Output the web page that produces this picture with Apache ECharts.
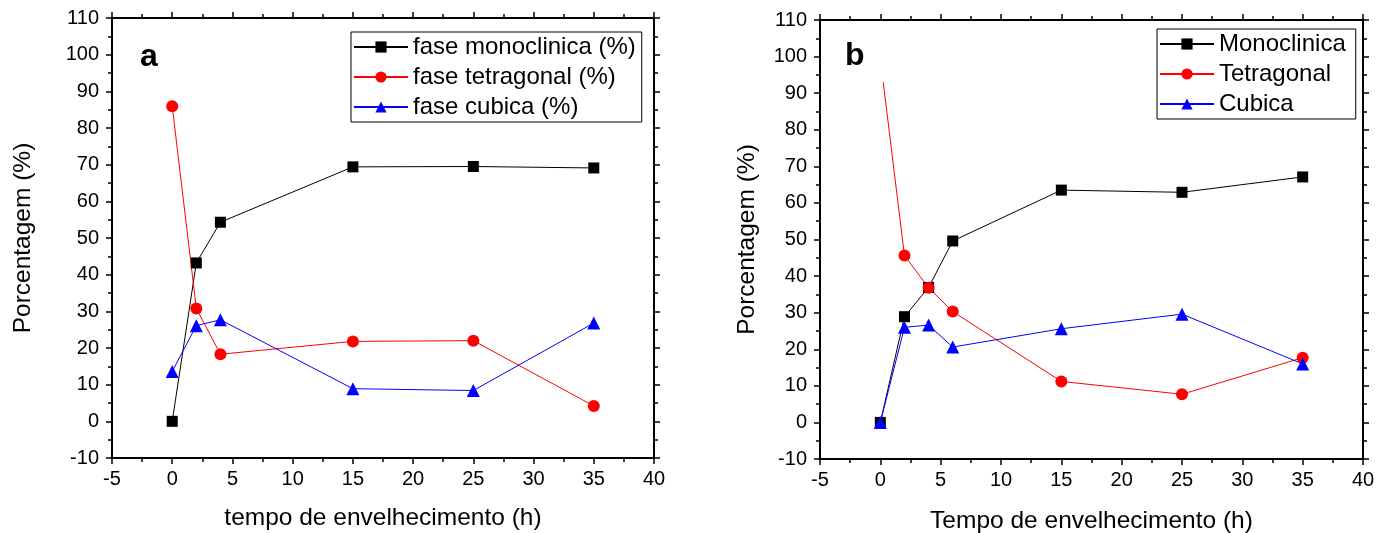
<!DOCTYPE html>
<html>
<head>
<meta charset="utf-8">
<script src="https://cdn.jsdelivr.net/npm/echarts@6/dist/echarts.min.js"></script>
<style>
  html, body { margin: 0; padding: 0; background: #fff; }
  #chart { width: 1391px; height: 533px; }
</style>
</head>
<body>
<div id="chart"></div>
<script>
// painel a
const hoursA = [0, 2, 4, 15, 25, 35];
const monoA = [0, 43.2, 54.3, 69.4, 69.5, 69.1];
const tetraA = [85.9, 30.8, 18.3, 21.8, 22.0, 4.2];
const cubicaA = [13.6, 26.1, 27.7, 8.9, 8.4, 26.8];

// painel b
const hoursB = [0, 2, 4, 6, 15, 25, 35];
const monoB = [0, 28.9, 36.9, 49.6, 63.5, 62.9, 67.1];
const tetraHoursB = [0.24, 2, 4, 6, 15, 25, 35];
const tetraB = [93.0, 45.6, 36.8, 30.3, 11.2, 7.7, 17.7];
const cubicaB = [0, 26.0, 26.6, 20.6, 25.6, 29.6, 16.0];

const namesA = ['fase monoclinica (%)', 'fase tetragonal (%)', 'fase cubica (%)'];
const namesB = ['Monoclinica', 'Tetragonal', 'Cubica'];

const FONT = '"Liberation Sans", Arial, sans-serif';

const pairs = (xs, ys) => xs.map((x, i) => [x, ys[i]]);

const chart = echarts.init(document.getElementById('chart'));

// eixo com ticks para fora e minor ticks (estilo Origin)
const makeAxis = (pos, gridIndex, isX, name, nameGap) => {
    const showLabel = pos === 'bottom' || pos === 'left';
    return {
        type: 'value',
        gridIndex: gridIndex,
        position: pos,
        min: isX ? -5 : -10,
        max: isX ? 40 : 110,
        interval: isX ? 5 : 10,
        name: showLabel ? name : '',
        nameLocation: 'middle',
        nameGap: nameGap,
        nameTextStyle: { fontFamily: FONT, fontSize: 24.5, color: '#000' },
        axisLine: { show: true, onZero: false, lineStyle: { color: '#000', width: 2 } },
        axisTick: { show: true, inside: false, length: 6, lineStyle: { color: '#000', width: 1.5 } },
        minorTick: { show: true, splitNumber: 2, length: 4, lineStyle: { color: '#000', width: 1.5 } },
        splitLine: { show: false },
        axisLabel: {
            show: showLabel,
            margin: isX ? 11 : 13,
            fontFamily: FONT,
            fontSize: 20,
            color: '#000',
        },
    };
};

const lineSeries = (name, data, color, symbol, size, xi) => ({
    name: name,
    type: 'line',
    xAxisIndex: xi,
    yAxisIndex: xi,
    data: data,
    symbol: symbol,
    symbolSize: size,
    showSymbol: true,
    color: color,
    lineStyle: { color: color, width: 1 },
    itemStyle: { color: color },
    emphasis: { disabled: true },
    animation: false,
});

const tetraBData = pairs(tetraHoursB, tetraB).map((p, i) =>
    i === 0 ? { value: p, symbol: 'none' } : p
);

const legendBase = {
    orient: 'vertical',
    borderColor: '#000',
    borderWidth: 1,
    itemWidth: 54,
    itemHeight: 14,
    itemGap: 6,
    padding: [3, 6, 3, 2],
    textStyle: { fontFamily: FONT, fontSize: 24, color: '#000' },
};

const option = {
    animation: false,
    grid: [
        { left: 112, top: 18, width: 542, height: 440, outerBoundsMode: 'none', containLabel: false },
        { left: 820, top: 20, width: 543, height: 439, outerBoundsMode: 'none', containLabel: false },
    ],
    xAxis: [
        makeAxis('bottom', 0, true, 'tempo de envelhecimento (h)', 48),
        makeAxis('top', 0, true, '', 0),
        makeAxis('bottom', 1, true, 'Tempo de envelhecimento (h)', 50),
        makeAxis('top', 1, true, '', 0),
    ],
    yAxis: [
        makeAxis('left', 0, false, 'Porcentagem (%)', 76),
        makeAxis('right', 0, false, '', 0),
        makeAxis('left', 1, false, 'Porcentagem (%)', 60),
        makeAxis('right', 1, false, '', 0),
    ],
    legend: [
        Object.assign({}, legendBase, { data: namesA, left: 351, top: 32 }),
        Object.assign({}, legendBase, { data: namesB, left: 1157, top: 29, padding: [3, 10, 3, 2] }),
    ],
    graphic: [
        { type: 'text', left: 140, top: 41, style: { text: 'a', font: 'bold 32px ' + FONT, fill: '#000' } },
        { type: 'text', left: 845, top: 40, style: { text: 'b', font: 'bold 32px ' + FONT, fill: '#000' } },
    ],
    series: [
        lineSeries(namesA[0], pairs(hoursA, monoA), '#000000', 'rect', 11, 0),
        lineSeries(namesA[1], pairs(hoursA, tetraA), '#ff0000', 'circle', 12, 0),
        lineSeries(namesA[2], pairs(hoursA, cubicaA), '#0000ff', 'triangle', 13, 0),
        lineSeries(namesB[0], pairs(hoursB, monoB), '#000000', 'rect', 11, 2),
        lineSeries(namesB[1], tetraBData, '#ff0000', 'circle', 12, 2),
        lineSeries(namesB[2], pairs(hoursB, cubicaB), '#0000ff', 'triangle', 13, 2),
    ],
};

chart.setOption(option);
</script>
</body>
</html>
